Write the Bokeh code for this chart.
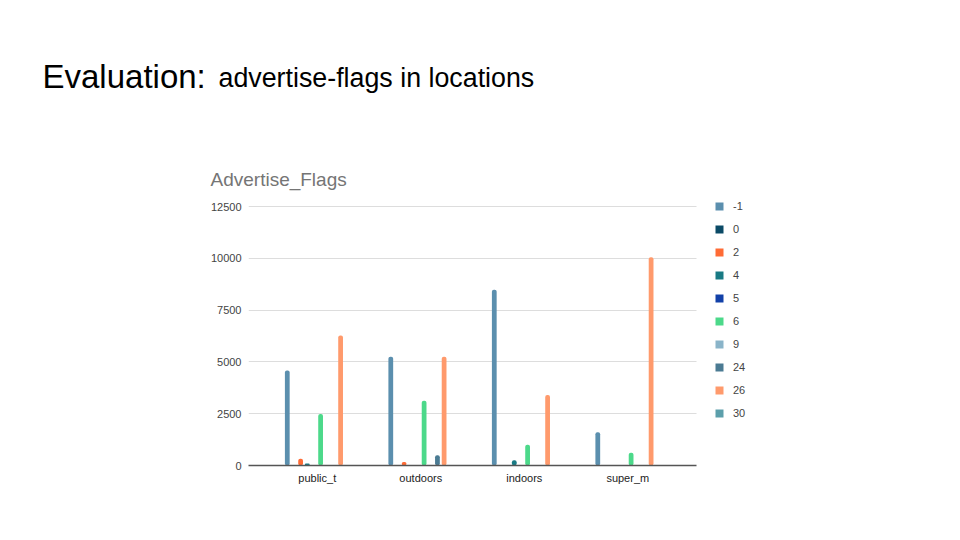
from bokeh.plotting import figure
from bokeh.layouts import column
from bokeh.models import ColumnDataSource, Range1d, Label, Legend, LegendItem, FixedTicker
from bokeh.transform import dodge
from bokeh.embed import file_html
from bokeh.resources import INLINE

# ---- data ----
locations = ["public_t", "outdoors", "indoors", "super_m"]
series = ["-1", "0", "2", "4", "5", "6", "9", "24", "26", "30"]
v_m1 = [4580, 5250, 8480, 1600]
v_0 = [0, 0, 0, 0]
v_2 = [330, 170, 0, 0]
v_4 = [100, 0, 250, 0]
v_5 = [0, 0, 0, 0]
v_6 = [2480, 3120, 1000, 620]
v_9 = [0, 0, 0, 0]
v_24 = [0, 500, 0, 0]
v_26 = [6280, 5250, 3400, 10050]
v_30 = [0, 0, 0, 0]
colors = ["#5b8fae", "#0b4a66", "#ff6b35", "#197a84", "#1241a8",
          "#4cd98a", "#8ab4c9", "#4b7b93", "#ff9a6c", "#5c9fab"]
y_ticks = [0, 2500, 5000, 7500, 10000, 12500]

values = [v_m1, v_0, v_2, v_4, v_5, v_6, v_9, v_24, v_26, v_30]
cat_x = [i + 0.5 for i in range(len(locations))]
data = {"x": cat_x}
for s, v in zip(series, values):
    data["s" + s] = v
source = ColumnDataSource(data)

FONT = "Liberation Sans"
HEAD_H = 198

# ---- header (slide title + chart title) ----
head = figure(width=960, height=HEAD_H, output_backend="svg", toolbar_location=None,
              x_axis_type=None, y_axis_type=None, min_border=0, frame_align=False,
              x_range=Range1d(0, 1), y_range=Range1d(0, 1))
head.outline_line_color = None
head.xgrid.visible = False
head.ygrid.visible = False
head.add_layout(Label(x=42, y=HEAD_H - 76, x_units="screen", y_units="screen",
                      text="Evaluation:", text_font=FONT, text_font_size="33px",
                      text_color="#000000", text_baseline="alphabetic"))
head.add_layout(Label(x=218, y=HEAD_H - 77, x_units="screen", y_units="screen",
                      text="advertise-flags in locations", text_font=FONT,
                      text_font_size="26.8px", text_color="#000000",
                      text_baseline="alphabetic"))
head.add_layout(Label(x=210, y=HEAD_H - 179, x_units="screen", y_units="screen",
                      text="Advertise_Flags", text_font=FONT, text_font_size="19px",
                      text_color="#757575", text_baseline="alphabetic"))

# ---- chart ----
LEFT, RIGHT_BORDER, BOTTOM = 248, 190, 75
PX_PER_CAT = 103.5
PAD = 0.1645
PX_PER_UNIT = 259 / 12500
frame_w = 960 - LEFT - RIGHT_BORDER
frame_h = 540 - HEAD_H - BOTTOM
x_start = -PAD
x_end = frame_w / PX_PER_CAT - PAD
y_end = frame_h / PX_PER_UNIT

p = figure(width=960, height=540 - HEAD_H, output_backend="svg", toolbar_location=None,
           x_range=Range1d(x_start, x_end), y_range=Range1d(0, y_end), frame_align=False,
           min_border_left=LEFT, min_border_right=RIGHT_BORDER,
           min_border_top=0, min_border_bottom=BOTTOM)
p.outline_line_color = None

slot = 0.0644
items = []
for i, s in enumerate(series):
    off = (i - 4.5) * slot
    r = p.vbar(x=dodge("x", off), top="s" + s, width=0.046,
               source=source, fill_color=colors[i], line_color=None,
               border_radius=2)
    items.append(LegendItem(label=s, renderers=[r]))

plot_bounds = (-PAD, len(locations) + PAD)

p.yaxis.ticker = FixedTicker(ticks=y_ticks)
p.yaxis.axis_line_color = None
p.yaxis.major_tick_line_color = None
p.yaxis.minor_tick_line_color = None
p.yaxis.major_label_text_font = FONT
p.yaxis.major_label_text_font_size = "11px"
p.yaxis.major_label_text_color = "#444444"
p.yaxis.major_label_standoff = 1

p.xaxis.ticker = FixedTicker(ticks=cat_x)
p.xaxis.major_label_overrides = {x: name for x, name in zip(cat_x, locations)}
p.xaxis.bounds = plot_bounds
p.xaxis.axis_line_color = "#555555"
p.xaxis.axis_line_width = 1.5
p.xaxis.major_tick_line_color = None
p.xaxis.minor_tick_line_color = None
p.xaxis.major_label_text_font = FONT
p.xaxis.major_label_text_font_size = "11px"
p.xaxis.major_label_text_color = "#222222"
p.xaxis.major_label_standoff = 0

p.xgrid.grid_line_color = None
p.ygrid.grid_line_color = "#dddddd"
p.ygrid.ticker = FixedTicker(ticks=y_ticks)
p.ygrid.cross_bounds = plot_bounds

legend = Legend(items=items, location=(466, 46), orientation="vertical",
                glyph_width=10, glyph_height=10, label_height=13,
                spacing=10, padding=0, margin=0, label_standoff=9,
                label_text_font=FONT, label_text_font_size="11px",
                label_text_color="#444444", border_line_color=None,
                background_fill_alpha=0)
p.add_layout(legend, "center")

layout = column(head, p, spacing=0)
open("out.html", "w").write(file_html(layout, INLINE))
